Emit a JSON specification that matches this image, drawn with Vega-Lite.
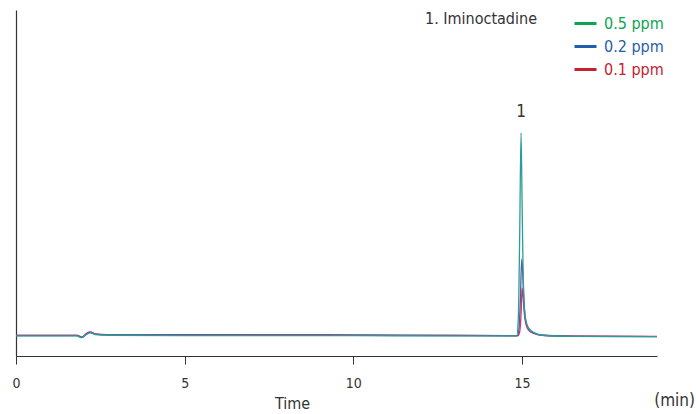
{
  "$schema": "https://vega.github.io/schema/vega-lite/v6.json",
  "width": 641,
  "height": 346,
  "autosize": {"type": "none"},
  "padding": {"left": 16, "top": 10, "right": 39, "bottom": 58},
  "background": "white",
  "config": {
    "font": "DejaVu Sans Condensed, Liberation Sans Narrow, Roboto, sans-serif",
    "view": {"stroke": null}
  },
  "title": {
    "text": "(min)",
    "orient": "bottom",
    "anchor": "end",
    "offset": -18,
    "fontSize": 17,
    "fontWeight": "normal",
    "color": "#333",
    "dx": 31
  },
  "datasets": {
    "trace": [
      {"series": "0.1 ppm", "time": 0, "value": 6.0},
      {"series": "0.1 ppm", "time": 1.8, "value": 6.0},
      {"series": "0.1 ppm", "time": 1.95, "value": 5.5},
      {"series": "0.1 ppm", "time": 2.1, "value": 6.6},
      {"series": "0.1 ppm", "time": 2.2, "value": 7.0},
      {"series": "0.1 ppm", "time": 2.35, "value": 6.4},
      {"series": "0.1 ppm", "time": 2.7, "value": 6.2},
      {"series": "0.1 ppm", "time": 5, "value": 6.2},
      {"series": "0.1 ppm", "time": 8, "value": 6.2},
      {"series": "0.1 ppm", "time": 10, "value": 6.1},
      {"series": "0.1 ppm", "time": 13, "value": 6.0},
      {"series": "0.1 ppm", "time": 14.88, "value": 5.9},
      {"series": "0.1 ppm", "time": 14.93, "value": 7},
      {"series": "0.1 ppm", "time": 14.97, "value": 12},
      {"series": "0.1 ppm", "time": 15.0, "value": 19.7},
      {"series": "0.1 ppm", "time": 15.03, "value": 17},
      {"series": "0.1 ppm", "time": 15.07, "value": 12},
      {"series": "0.1 ppm", "time": 15.12, "value": 9},
      {"series": "0.1 ppm", "time": 15.2, "value": 7.4},
      {"series": "0.1 ppm", "time": 15.35, "value": 6.5},
      {"series": "0.1 ppm", "time": 15.6, "value": 6.0},
      {"series": "0.1 ppm", "time": 16.5, "value": 5.8},
      {"series": "0.1 ppm", "time": 19, "value": 5.7},
      {"series": "0.2 ppm", "time": 0, "value": 5.9},
      {"series": "0.2 ppm", "time": 1.8, "value": 5.9},
      {"series": "0.2 ppm", "time": 1.95, "value": 5.4},
      {"series": "0.2 ppm", "time": 2.1, "value": 6.5},
      {"series": "0.2 ppm", "time": 2.2, "value": 6.9},
      {"series": "0.2 ppm", "time": 2.35, "value": 6.3},
      {"series": "0.2 ppm", "time": 2.7, "value": 6.1},
      {"series": "0.2 ppm", "time": 5, "value": 6.1},
      {"series": "0.2 ppm", "time": 10, "value": 6.0},
      {"series": "0.2 ppm", "time": 13, "value": 5.9},
      {"series": "0.2 ppm", "time": 14.86, "value": 5.8},
      {"series": "0.2 ppm", "time": 14.91, "value": 8},
      {"series": "0.2 ppm", "time": 14.95, "value": 16},
      {"series": "0.2 ppm", "time": 14.99, "value": 28},
      {"series": "0.2 ppm", "time": 15.02, "value": 24},
      {"series": "0.2 ppm", "time": 15.06, "value": 15},
      {"series": "0.2 ppm", "time": 15.11, "value": 10},
      {"series": "0.2 ppm", "time": 15.2, "value": 7.8},
      {"series": "0.2 ppm", "time": 15.35, "value": 6.6},
      {"series": "0.2 ppm", "time": 15.6, "value": 6.0},
      {"series": "0.2 ppm", "time": 16.5, "value": 5.7},
      {"series": "0.2 ppm", "time": 19, "value": 5.6},
      {"series": "0.5 ppm", "time": 0, "value": 5.8},
      {"series": "0.5 ppm", "time": 1.8, "value": 5.8},
      {"series": "0.5 ppm", "time": 1.95, "value": 5.3},
      {"series": "0.5 ppm", "time": 2.1, "value": 6.3},
      {"series": "0.5 ppm", "time": 2.2, "value": 6.7},
      {"series": "0.5 ppm", "time": 2.35, "value": 6.2},
      {"series": "0.5 ppm", "time": 2.7, "value": 6.0},
      {"series": "0.5 ppm", "time": 5, "value": 5.9},
      {"series": "0.5 ppm", "time": 10, "value": 5.9},
      {"series": "0.5 ppm", "time": 13, "value": 5.8},
      {"series": "0.5 ppm", "time": 14.84, "value": 5.8},
      {"series": "0.5 ppm", "time": 14.89, "value": 11},
      {"series": "0.5 ppm", "time": 14.93, "value": 35},
      {"series": "0.5 ppm", "time": 14.97, "value": 64.5},
      {"series": "0.5 ppm", "time": 15.0, "value": 45},
      {"series": "0.5 ppm", "time": 15.03, "value": 25},
      {"series": "0.5 ppm", "time": 15.07, "value": 14},
      {"series": "0.5 ppm", "time": 15.12, "value": 10},
      {"series": "0.5 ppm", "time": 15.2, "value": 8},
      {"series": "0.5 ppm", "time": 15.35, "value": 6.8},
      {"series": "0.5 ppm", "time": 15.6, "value": 6.0},
      {"series": "0.5 ppm", "time": 16.5, "value": 5.7},
      {"series": "0.5 ppm", "time": 19, "value": 5.6}
    ],
    "peaks": [
      {"time": 14.97, "value": 64.5, "label": "1"}
    ]
  },
  "encoding": {
    "x": {
      "field": "time",
      "type": "quantitative",
      "scale": {"domain": [0, 19], "nice": false, "zero": false},
      "axis": {
        "values": [0, 5, 10, 15],
        "title": "Time",
        "titleX": 276,
        "titleY": 52,
        "titleBaseline": "alphabetic",
        "titleAlign": "center",
        "titleFontSize": 16,
        "titleFontWeight": "normal",
        "titleColor": "#333",
        "labelFontSize": 14,
        "labelColor": "#333",
        "labelPadding": 12,
        "tickSize": 8,
        "tickColor": "#333",
        "domainColor": "#333",
        "domainWidth": 1.2,
        "grid": false,
        "labelFlush": false
      }
    },
    "y": {
      "field": "value",
      "type": "quantitative",
      "scale": {"domain": [0, 100], "nice": false},
      "axis": {
        "title": null,
        "labels": false,
        "ticks": false,
        "grid": false,
        "domainColor": "#333",
        "domainWidth": 1.2
      }
    }
  },
  "layer": [
    {
      "data": {"name": "trace"},
      "mark": {"type": "point", "opacity": 0, "size": 1},
      "encoding": {
        "color": {
          "field": "series",
          "type": "nominal",
          "scale": {
            "domain": ["0.5 ppm", "0.2 ppm", "0.1 ppm"],
            "range": ["#0aa552", "#1f5ea8", "#c42130"]
          },
          "legend": {
            "orient": "none",
            "legendX": 409,
            "legendY": 1,
            "title": "1. Iminoctadine",
            "titleOrient": "left",
            "titleAngle": 0,
            "titleAnchor": "start",
            "titleBaseline": "top",
            "titlePadding": 36,
            "titleFontSize": 16,
            "titleFontWeight": "normal",
            "titleColor": "#333",
            "labelFontSize": 16,
            "labelOffset": 6,
            "labelColor": {"expr": "datum.value === '0.5 ppm' ? '#0aa552' : datum.value === '0.2 ppm' ? '#1f5ea8' : '#c42130'"},
            "symbolType": "stroke",
            "symbolSize": 484,
            "symbolStrokeWidth": 3,
            "symbolOpacity": 1,
            "rowPadding": 2,
            "encode": {
              "symbols": {"update": {"opacity": {"value": 1}, "strokeOpacity": {"value": 1}}},
              "labels": {
                "update": {
                  "fill": {"signal": "datum.value === '0.5 ppm' ? '#0aa552' : datum.value === '0.2 ppm' ? '#1f5ea8' : '#c42130'"}
                }
              }
            }
          }
        }
      }
    },
    {
      "data": {"name": "trace"},
      "mark": {"type": "line", "strokeWidth": 1.3, "interpolate": "monotone"},
      "encoding": {
        "stroke": {
          "field": "series",
          "type": "nominal",
          "scale": {
            "domain": ["0.5 ppm", "0.2 ppm", "0.1 ppm"],
            "range": ["#2a9d98", "#5a56a8", "#e3305f"]
          },
          "legend": null
        },
        "order": {"field": "time", "type": "quantitative"}
      }
    },
    {
      "data": {"name": "peaks"},
      "mark": {"type": "text", "fontSize": 17, "color": "#333", "baseline": "bottom", "dy": -12},
      "encoding": {
        "text": {"field": "label"}
      }
    }
  ]
}
